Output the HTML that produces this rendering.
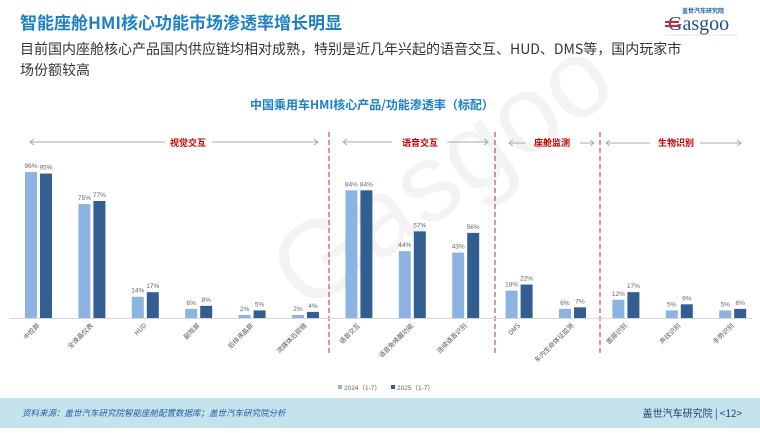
<!DOCTYPE html>
<html><head><meta charset="utf-8"><style>
html,body{margin:0;padding:0;background:#fff;}
body{width:760px;height:428px;position:relative;overflow:hidden;font-family:"Liberation Sans","Noto Sans CJK SC",sans-serif;}
</style></head><body>
<svg width="760" height="428" viewBox="0 0 760 428" xmlns="http://www.w3.org/2000/svg" font-family="Liberation Sans, Noto Sans CJK SC, sans-serif">
<g opacity="0.045" fill="#000">
<text x="250" y="300" font-size="110" transform="rotate(-35 300 220)">Gasgoo</text>
</g>
<text x="20" y="29" font-size="17" font-weight="bold" fill="#1d7fc4" font-family="Noto Sans CJK SC, sans-serif">智能座舱HMI核心功能市场渗透率增长明显</text>
<text x="20" y="54" font-size="14" fill="#333" font-family="Noto Sans CJK SC, sans-serif">目前国内座舱核心产品国内供应链均相对成熟，特别是近几年兴起的语音交互、HUD、DMS等，国内玩家市</text>
<text x="20" y="75" font-size="14" fill="#333" font-family="Noto Sans CJK SC, sans-serif">场份额较高</text>
<text x="682" y="13" font-size="6" fill="#1d5fa0" font-weight="bold">盖世汽车研究院</text>
<text x="668" y="30" font-size="20" fill="#1d4f8f" font-family="Liberation Serif, serif">Gasgoo</text>
<rect x="665" y="21" width="14" height="2" fill="#d9222a"/><rect x="665" y="25" width="14" height="2" fill="#d9222a"/>
<line x1="665" y1="35" x2="738" y2="35" stroke="#ccc" stroke-width="0.6"/>
<text x="250" y="109" font-size="12" font-weight="bold" fill="#1d7fc4" font-family="Noto Sans CJK SC, sans-serif">中国乘用车HMI核心产品/功能渗透率（标配）</text>
<g stroke="#c0282e" stroke-width="1" stroke-dasharray="5,3">
<line x1="329" y1="132" x2="329" y2="356"/><line x1="495" y1="132" x2="495" y2="356"/><line x1="600" y1="132" x2="600" y2="356"/>
</g>
<g stroke="#aaa" stroke-width="1" fill="none">
<line x1="30" y1="142" x2="165" y2="142"/><line x1="212" y1="142" x2="318" y2="142"/>
<line x1="343" y1="142" x2="392" y2="142"/><line x1="447" y1="142" x2="488" y2="142"/>
<line x1="509" y1="143" x2="525" y2="143"/><line x1="580" y1="143" x2="594" y2="143"/>
<line x1="606" y1="143" x2="650" y2="143"/><line x1="700" y1="143" x2="741" y2="143"/>
<path d="M34,139 L30,142 L34,145 M314,139 L318,142 L314,145 M347,139 L343,142 L347,145 M484,139 L488,142 L484,145 M513,140 L509,143 L513,146 M590,140 L594,143 L590,146 M610,140 L606,143 L610,146 M737,140 L741,143 L737,146"/>
</g>
<g font-size="9" font-weight="bold" fill="#c00000" font-family="Noto Sans CJK SC, sans-serif" text-anchor="middle">
<text x="188" y="146">视觉交互</text><text x="420" y="146">语音交互</text><text x="552" y="146">座舱监测</text><text x="676" y="146">生物识别</text>
</g>
<line x1="10" y1="318.5" x2="752" y2="318.5" stroke="#d9d9d9"/>
<g id="bars"></g>
<rect x="338" y="385" width="4" height="4" fill="#8db3e2"/>
<text x="344" y="390" font-size="6.5" fill="#666">2024（1-7）</text>
<rect x="391" y="385" width="4" height="4" fill="#335e92"/>
<text x="397" y="390" font-size="6.5" fill="#666">2025（1-7）</text>
<rect x="0" y="398" width="760" height="30" fill="#c5e3ec"/>
<text x="22" y="416" font-size="8.5" fill="#1d5fa0" font-style="italic" font-family="Noto Sans CJK SC, sans-serif">资料来源：盖世汽车研究院智能座舱配置数据库；盖世汽车研究院分析</text>
<text x="742" y="417" font-size="10" fill="#1a3f6f" text-anchor="end" font-family="Noto Sans CJK SC, sans-serif">盖世汽车研究院 | &lt;12&gt;</text>
</svg>
<script>
var d=[["中控屏",96,95],["全液晶仪表",75,77],["HUD",14,17],["副驾屏",6,8],["后排液晶屏",2,5],["流媒体后视镜",2,4],["语音交互",84,84],["语音免唤醒功能",44,57],["连续语音识别",43,56],["DMS",18,22],["车内生命体征监测",6,7],["面部识别",12,17],["声纹识别",5,9],["手势识别",5,6]];
var g=document.getElementById("bars"),s="";
d.forEach(function(r,i){var c=38+53.4*i,h1=r[1]*1.52,h2=r[2]*1.52;
s+='<rect x="'+(c-13)+'" y="'+(318-h1)+'" width="12" height="'+h1+'" fill="#8db3e2"/>';
s+='<rect x="'+(c+2)+'" y="'+(318-h2)+'" width="12" height="'+h2+'" fill="#335e92"/>';
s+='<text x="'+(c-7)+'" y="'+(314-h1)+'" font-size="6.5" fill="#666" text-anchor="middle">'+r[1]+'%</text>';
s+='<text x="'+(c+8)+'" y="'+(314-h2)+'" font-size="6.5" fill="#666" text-anchor="middle">'+r[2]+'%</text>';
s+='<text x="'+(c+2)+'" y="326" font-size="6.5" fill="#555" text-anchor="end" transform="rotate(-45 '+(c+2)+' 326)" font-family="Noto Sans CJK SC, sans-serif">'+r[0]+'</text>';});
g.innerHTML=s;
</script>
</body></html>
